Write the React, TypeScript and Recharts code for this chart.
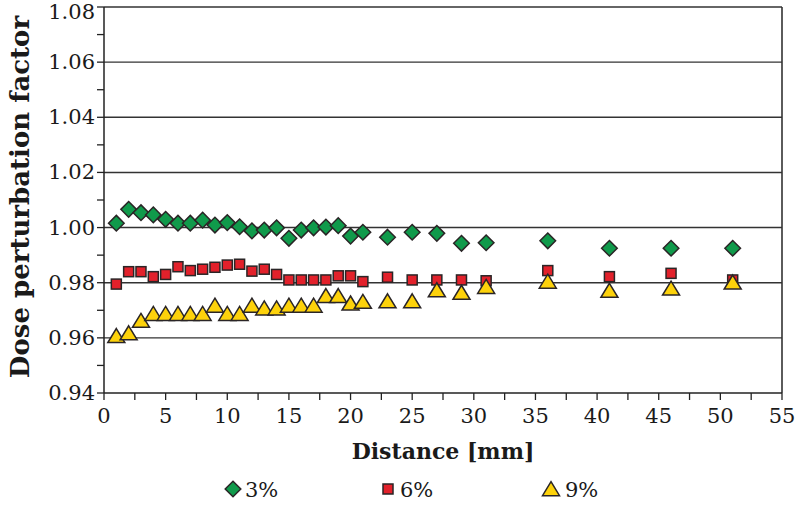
import React from 'react';
import {
  ScatterChart, Scatter, XAxis, YAxis, ReferenceLine, Legend,
} from 'recharts';

const distances = [1, 2, 3, 4, 5, 6, 7, 8, 9, 10, 11, 12, 13, 14, 15, 16, 17, 18, 19, 20, 21, 23, 25, 27, 29, 31, 36, 41, 46, 51];

const dpf3 = [1.0016, 1.0066, 1.0054, 1.0046, 1.003, 1.0016, 1.0016, 1.0027, 1.0009, 1.0018, 1.0003, 0.9988, 0.9991, 0.9999, 0.9961, 0.9991, 0.9999, 1.0002, 1.0007, 0.9969, 0.9983, 0.9965, 0.9983, 0.9979, 0.9943, 0.9945, 0.9952, 0.9925, 0.9925, 0.9925];
const dpf6 = [0.9795, 0.984, 0.984, 0.9822, 0.983, 0.9858, 0.9844, 0.9849, 0.9856, 0.9864, 0.9867, 0.9842, 0.9849, 0.983, 0.981, 0.981, 0.981, 0.981, 0.9825, 0.9825, 0.9804, 0.982, 0.981, 0.981, 0.981, 0.9807, 0.9844, 0.9822, 0.9834, 0.981];
const dpf9 = [0.96, 0.961, 0.9655, 0.968, 0.968, 0.968, 0.968, 0.968, 0.971, 0.968, 0.968, 0.971, 0.97, 0.97, 0.971, 0.971, 0.971, 0.9745, 0.9745, 0.9718, 0.9724, 0.9726, 0.9726, 0.9766, 0.9757, 0.9778, 0.9797, 0.9764, 0.9772, 0.9794];

const xTicks = [0, 2.5, 5, 7.5, 10, 12.5, 15, 17.5, 20, 22.5, 25, 27.5, 30, 32.5, 35, 37.5, 40, 42.5, 45, 47.5, 50, 52.5, 55];
const yTicks = [0.94, 0.95, 0.96, 0.97, 0.98, 0.99, 1.0, 1.01, 1.02, 1.03, 1.04, 1.05, 1.06, 1.07, 1.08];
const yMajor = [0.96, 0.98, 1.0, 1.02, 1.04, 1.06, 1.08];

const seriesNames = ['3%', '6%', '9%'];

const GREEN = '#109a4b';
const RED = '#e2212b';
const YELLOW = '#fdd20b';
const EDGE = '#2a2526';
const INK = '#1a1a1a';
const FONT = '"DejaVu Serif", serif';

const toPoints = (vals: number[]) => distances.map((d, i) => ({ x: d, y: vals[i] }));

const Diamond = (p: any) => {
  const { cx, cy } = p;
  const r = 7.8;
  return <polygon points={`${cx},${cy - r} ${cx + r},${cy} ${cx},${cy + r} ${cx - r},${cy}`} fill={GREEN} stroke={EDGE} strokeWidth={1.5} />;
};
const Square = (p: any) => {
  const { cx, cy } = p;
  return <rect x={cx - 5} y={cy - 5} width={10} height={10} fill={RED} stroke={EDGE} strokeWidth={1.5} />;
};
const Triangle = (p: any) => {
  const { cx, cy } = p;
  const w = 8.5;
  const h = 14;
  return <polygon points={`${cx},${cy - (h * 2) / 3} ${cx + w},${cy + h / 3} ${cx - w},${cy + h / 3}`} fill={YELLOW} stroke={EDGE} strokeWidth={1.5} />;
};

const XTick = (p: any) => {
  const { x, y, payload } = p;
  if (payload.value % 5 !== 0) return null;
  return <text x={x} y={y + 21} textAnchor="middle" fontFamily={FONT} fontSize={21} fill={INK}>{payload.value}</text>;
};
const YTick = (p: any) => {
  const { x, y, payload } = p;
  const v = Math.round(payload.value * 100);
  if (v % 2 !== 0) return null;
  // top label sits a little lower so it stays inside the page
  const dy = v === 108 ? 12 : 7;
  return <text x={x} y={y} dy={dy} textAnchor="end" fontFamily={FONT} fontSize={21} fill={INK}>{payload.value.toFixed(2)}</text>;
};

const LegendBox = () => (
  <svg width={795} height={40}>
    <g transform="translate(233,24)"><Diamond cx={0} cy={0} /></g>
    <text x={245} y={32} fontFamily={FONT} fontSize={21} fill={INK}>{seriesNames[0]}</text>
    <g transform="translate(388,24)"><Square cx={0} cy={0} /></g>
    <text x={400} y={32} fontFamily={FONT} fontSize={21} fill={INK}>{seriesNames[1]}</text>
    <g transform="translate(551,26)"><Triangle cx={0} cy={0} /></g>
    <text x={565} y={32} fontFamily={FONT} fontSize={21} fill={INK}>{seriesNames[2]}</text>
  </svg>
);

export default function App() {
  return (
    <div style={{ position: 'absolute', left: 0, top: 0, background: '#fff' }}>
      <ScatterChart width={795} height={505} margin={{ top: 7, right: 13, left: 0, bottom: 0 }}>
        {yMajor.map((v) => (
          <ReferenceLine key={v} y={v} stroke="#333" strokeWidth={1.4} ifOverflow="visible" />
        ))}
        <ReferenceLine x={55} stroke="#333" strokeWidth={1.6} />
        <XAxis
          type="number"
          dataKey="x"
          domain={[0, 55]}
          ticks={xTicks}
          interval={0}
          height={72}
          axisLine={{ stroke: '#222', strokeWidth: 1.5 }}
          tickLine={{ stroke: '#222', strokeWidth: 1.3 }}
          tickSize={7}
          tick={<XTick />}
          label={(props: any) => {
            const vb = props.viewBox;
            return (
              <text x={vb.x + vb.width / 2} y={vb.y + 66} textAnchor="middle" fontFamily={FONT} fontWeight="bold" fontSize={22} fill={INK}>
                Distance [mm]
              </text>
            );
          }}
        />
        <YAxis
          type="number"
          dataKey="y"
          domain={[0.94, 1.08]}
          ticks={yTicks}
          interval={0}
          width={104}
          axisLine={{ stroke: '#222', strokeWidth: 1.5 }}
          tickLine={{ stroke: '#222', strokeWidth: 1.3 }}
          tickSize={7}
          tick={<YTick />}
          label={(props: any) => {
            const vb = props.viewBox;
            const cx = vb.x + 20;
            const cy = vb.y + vb.height / 2 - 3;
            return (
              <text x={cx} y={cy} transform={`rotate(-90 ${cx} ${cy})`} textAnchor="middle" dominantBaseline="central" fontFamily={FONT} fontWeight="bold" fontSize={26} fill={INK}>
                Dose perturbation factor
              </text>
            );
          }}
        />
        <Legend verticalAlign="bottom" height={40} content={<LegendBox />} wrapperStyle={{ left: 0, width: 795 }} />
        <Scatter name={seriesNames[0]} data={toPoints(dpf3)} shape={Diamond} isAnimationActive={false} />
        <Scatter name={seriesNames[1]} data={toPoints(dpf6)} shape={Square} isAnimationActive={false} />
        <Scatter name={seriesNames[2]} data={toPoints(dpf9)} shape={Triangle} isAnimationActive={false} />
      </ScatterChart>
    </div>
  );
}
